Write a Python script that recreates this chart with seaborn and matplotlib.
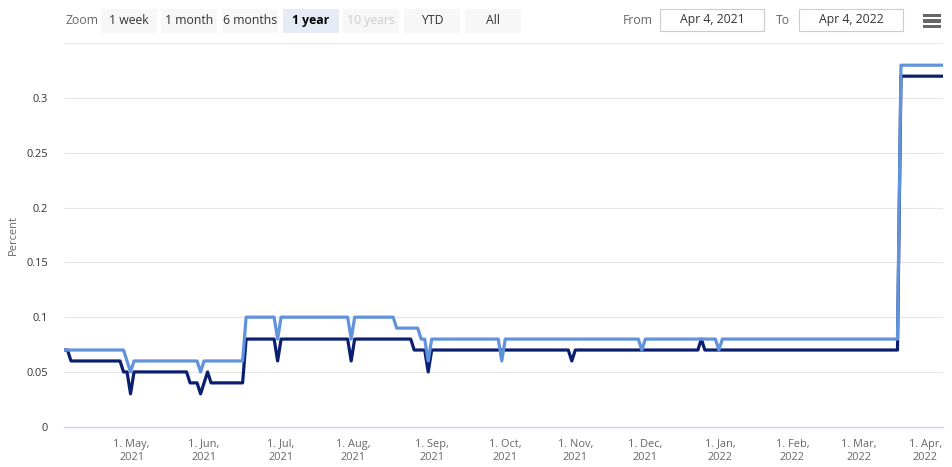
import numpy as np
import pandas as pd
import matplotlib
matplotlib.use("Agg")
import matplotlib.pyplot as plt
from matplotlib.patches import Rectangle
from matplotlib.transforms import ScaledTranslation
import seaborn as sns

# ---------------- data ----------------
start_date = "2021-04-05"
end_date = "2022-04-04"
market_holidays = ["2021-05-31", "2021-07-05", "2021-09-06", "2021-10-11",
                   "2021-11-11", "2021-11-25", "2021-12-24", "2022-01-17",
                   "2022-02-21"]

# change points (date where a new value starts, value) for each series
dark_dates = ["2021-04-05", "2021-04-07", "2021-04-28", "2021-04-30", "2021-05-03",
              "2021-05-25", "2021-05-28", "2021-06-01", "2021-06-02", "2021-06-03",
              "2021-06-17", "2021-06-30", "2021-07-01", "2021-07-30", "2021-08-02",
              "2021-08-25", "2021-08-31", "2021-09-01", "2021-10-29", "2021-11-01",
              "2021-12-23", "2021-12-27", "2022-03-17"]
dark_values = [0.07, 0.06, 0.05, 0.03, 0.05,
               0.04, 0.03, 0.04, 0.05, 0.04,
               0.08, 0.06, 0.08, 0.06, 0.08,
               0.07, 0.05, 0.07, 0.06, 0.07,
               0.08, 0.07, 0.32]

light_dates = ["2021-04-05", "2021-04-29", "2021-04-30", "2021-05-03", "2021-05-28",
               "2021-06-01", "2021-06-17", "2021-06-30", "2021-07-01", "2021-07-30",
               "2021-08-02", "2021-08-18", "2021-08-27", "2021-08-31", "2021-09-01",
               "2021-09-30", "2021-10-01", "2021-11-30", "2021-12-01", "2021-12-31",
               "2022-01-03", "2022-03-17"]
light_values = [0.07, 0.06, 0.05, 0.06, 0.05,
                0.06, 0.10, 0.08, 0.10, 0.08,
                0.10, 0.09, 0.08, 0.06, 0.08,
                0.06, 0.08, 0.07, 0.08, 0.07,
                0.08, 0.33]

series_names = ["Dark series", "Light series"]
series_colors = ["#0b1f6f", "#6192dc"]

month_ticks = ["2021-05-01", "2021-06-01", "2021-07-01", "2021-08-01", "2021-09-01",
               "2021-10-01", "2021-11-01", "2021-12-01", "2022-01-01", "2022-02-01",
               "2022-03-01", "2022-04-01"]
month_tick_labels = ["1. May,\n2021", "1. Jun,\n2021", "1. Jul,\n2021", "1. Aug,\n2021",
                     "1. Sep,\n2021", "1. Oct,\n2021", "1. Nov,\n2021", "1. Dec,\n2021",
                     "1. Jan,\n2022", "1. Feb,\n2022", "1. Mar,\n2022", "1. Apr,\n2022"]
y_ticks = [0, 0.05, 0.1, 0.15, 0.2, 0.25, 0.3, 0.35]
y_tick_labels = ["0", "0.05", "0.1", "0.15", "0.2", "0.25", "0.3", ""]

zoom_buttons = ["1 week", "1 month", "6 months", "1 year", "10 years", "YTD", "All"]
from_text = "Apr 4, 2021"
to_text = "Apr 4, 2022"

# ---------------- build long-form table ----------------
trading_days = pd.bdate_range(start_date, end_date, freq="C", holidays=market_holidays)
ordinal = np.arange(len(trading_days))


def expand(dates, values):
    s = pd.Series(values, index=pd.to_datetime(dates))
    return s.reindex(trading_days, method="ffill").values


frames = []
for name, d, v in [(series_names[0], dark_dates, dark_values),
                   (series_names[1], light_dates, light_values)]:
    frames.append(pd.DataFrame({"pos": ordinal, "value": expand(d, v), "series": name}))
df = pd.concat(frames, ignore_index=True)

# ---------------- styling ----------------
sns.set_style("white")
plt.rcParams["font.family"] = ["Open Sans", "DejaVu Sans"]

W, H = 953, 467
fig = plt.figure(figsize=(W / 100, H / 100), dpi=100)
L, R, T, B = 64, 943, 43.3, 426.7
ax = fig.add_axes([L / W, 1 - B / H, (R - L) / W, (B - T) / H])

sns.lineplot(data=df, x="pos", y="value", hue="series", hue_order=series_names,
             palette=series_colors, legend=False, linewidth=2.3, ax=ax,
             estimator=None, sort=False)

ax.set_xlim(0, len(trading_days) - 1)
ax.set_ylim(0, 0.35)
ax.set_xlabel("")
ax.set_ylabel("")

# ordinal tick positions for month starts
td_num = trading_days.values.astype("datetime64[D]").astype(float)
mt_num = pd.to_datetime(month_ticks).values.astype("datetime64[D]").astype(float)
tick_pos = np.interp(mt_num, td_num, ordinal)
ax.set_xticks(tick_pos)
ax.set_xticklabels(month_tick_labels, fontsize=7.9, color="#666666", linespacing=1.35)
ax.set_yticks(y_ticks)
ax.set_yticklabels(y_tick_labels, fontsize=7.9, color="#333333")

ax.tick_params(axis="x", length=7, width=0.8, color="#ccd6eb", pad=1.5)
ax.tick_params(axis="y", length=0, pad=11.5)
for side in ["top", "right", "left"]:
    ax.spines[side].set_visible(False)
ax.spines["bottom"].set_color("#ccd6eb")
ax.spines["bottom"].set_linewidth(1.0)
ax.yaxis.grid(True, color="#e6e6e6", linewidth=0.8)
ax.xaxis.grid(False)
ax.set_axisbelow(True)

# keep the last month label inside the figure (shifted left as in the reference)
last_lab = ax.get_xticklabels()[-1]
last_lab.set_transform(last_lab.get_transform() +
                       ScaledTranslation(-14 / 100, 0, fig.dpi_scale_trans))

fig.text(13 / W, 1 - 235 / H, "Percent", rotation=90, ha="center", va="center",
         fontsize=7.9, color="#666666")


# ---------------- range selector toolbar ----------------
def fx(x):
    return x / W


def fy(y):
    return 1 - y / H


fig.text(fx(65), fy(20), "Zoom", ha="left", va="center", fontsize=8.8, color="#666666")
btn_left = [100.7, 161.3, 222.0, 282.7, 343.3, 404.0, 464.7]
btn_w = 56
for i, (lab, x0) in enumerate(zip(zoom_buttons, btn_left)):
    selected = lab == "1 year"
    disabled = lab == "10 years"
    fill = "#e6ebf5" if selected else "#f7f7f7"
    fig.patches.append(Rectangle((fx(x0), fy(32.7)), btn_w / W, 23.7 / H,
                                 transform=fig.transFigure, facecolor=fill,
                                 edgecolor="none", zorder=1))
    col = "#cccccc" if disabled else ("#000000" if selected else "#333333")
    fig.text(fx(x0 + btn_w / 2), fy(20.5), lab, ha="center", va="center",
             fontsize=8.8, color=col, fontweight="bold" if selected else "normal")

fig.text(fx(623), fy(20), "From", ha="left", va="center", fontsize=8.8, color="#666666")
fig.text(fx(776), fy(20), "To", ha="left", va="center", fontsize=8.8, color="#666666")
for x0, x1, txt in [(660, 764.3, from_text), (799, 903.3, to_text)]:
    fig.patches.append(Rectangle((fx(x0), fy(30.7)), (x1 - x0) / W, 21.4 / H,
                                 transform=fig.transFigure, facecolor="white",
                                 edgecolor="#cccccc", linewidth=0.8, zorder=1))
    fig.text(fx((x0 + x1) / 2), fy(20), txt, ha="center", va="center",
             fontsize=8.8, color="#333333")

for yb in [15.3, 21.0, 26.7]:
    fig.patches.append(Rectangle((fx(923), fy(yb + 1.5)), 18 / W, 3 / H,
                                 transform=fig.transFigure, facecolor="#666666",
                                 edgecolor="none", zorder=1))

fig.savefig("out.png", dpi=100)
